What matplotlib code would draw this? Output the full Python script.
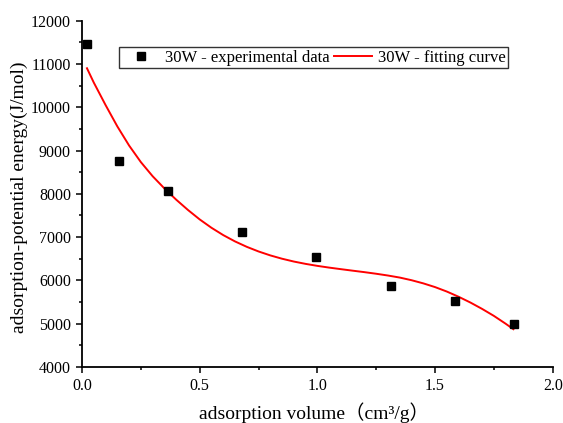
import numpy as np
import matplotlib
matplotlib.use("Agg")
import matplotlib.pyplot as plt
from matplotlib.ticker import MultipleLocator

# experimental points
vol_exp = [0.020, 0.156, 0.367, 0.679, 0.993, 1.312, 1.585, 1.835]
E_exp = [11462, 8760, 8067, 7127, 6550, 5880, 5533, 4995]

# fitting curve
vol_fit = [0.021, 0.05, 0.10, 0.15, 0.20, 0.25, 0.30, 0.35, 0.40, 0.45,
           0.50, 0.55, 0.60, 0.65, 0.70, 0.75, 0.80, 0.85, 0.90, 0.95,
           1.00, 1.05, 1.10, 1.15, 1.20, 1.25, 1.30, 1.35, 1.40, 1.45,
           1.50, 1.55, 1.60, 1.65, 1.70, 1.75, 1.80, 1.833]
E_fit = [10901, 10570, 10051, 9558, 9116, 8733, 8407, 8125, 7866, 7628,
         7409, 7216, 7047, 6901, 6776, 6669, 6578, 6501, 6436, 6382,
         6336, 6296, 6260, 6225, 6191, 6154, 6113, 6066, 6005, 5932,
         5846, 5743, 5623, 5490, 5342, 5181, 5000, 4873]

plt.rcParams['font.family'] = ['Liberation Serif', 'Noto Sans CJK SC']
plt.rcParams['font.size'] = 12

fig = plt.figure(figsize=(5.63, 4.23), dpi=100)
ax = fig.add_axes([0.1457, 0.1324, 0.836, 0.8187])

ax.plot(vol_exp, E_exp, 's', color='black', markersize=5.8,
        label='30W - experimental data', zorder=3)
ax.plot(vol_fit, E_fit, '-', color='red', linewidth=1.4,
        label='30W - fitting curve')

ax.set_xlim(0, 2.0)
ax.set_ylim(4000, 12000)
ax.xaxis.set_major_locator(MultipleLocator(0.5))
ax.xaxis.set_minor_locator(MultipleLocator(0.25))
ax.yaxis.set_major_locator(MultipleLocator(1000))
ax.yaxis.set_minor_locator(MultipleLocator(500))
ax.xaxis.set_major_formatter(plt.FormatStrFormatter('%.1f'))

ax.spines['top'].set_visible(False)
ax.spines['right'].set_visible(False)
for s in ['left', 'bottom']:
    ax.spines[s].set_linewidth(1.3)
ax.tick_params(which='major', direction='out', length=4.5, width=1.1, labelsize=11.5)
ax.tick_params(which='minor', direction='out', length=2.5, width=1.1)

ax.set_xlabel('adsorption volume（cm³/g）', fontsize=14)
ax.set_ylabel('adsorption-potential energy(J/mol)', fontsize=14)
ax.xaxis.set_label_coords(0.493, -0.101)
ax.yaxis.set_label_coords(-0.115, 0.49)

leg = ax.legend(ncol=2, loc='upper left', bbox_to_anchor=(0.0786, 0.924),
                frameon=True, fancybox=False, fontsize=12,
                borderpad=0.15, handlelength=2.3, columnspacing=0.25,
                handletextpad=0.33, borderaxespad=0)
leg.get_frame().set_edgecolor('black')
leg.get_frame().set_linewidth(1.0)

fig.savefig('out.png', dpi=100)
